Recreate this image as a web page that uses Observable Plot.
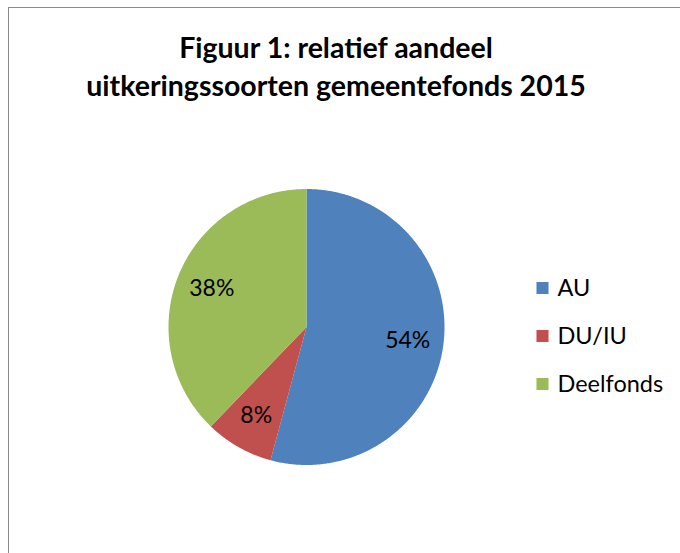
<!DOCTYPE html>
<html>
<head>
<meta charset="utf-8">
<script src="https://cdn.jsdelivr.net/npm/d3@7"></script>
<script src="https://cdn.jsdelivr.net/npm/@observablehq/plot@0.6"></script>
<style>
  html, body { margin: 0; padding: 0; background: #fff; overflow: hidden; }
  #page { position: fixed; left: 0; top: 0; width: 100vw; height: 100vh; overflow: hidden; background: #fff; }
  #frame { position: absolute; left: 8px; top: 7px; right: -50px; bottom: -50px; border-left: 1.5px solid #8a8a8a; border-top: 1.5px solid #8a8a8a; }
  #title { position: absolute; left: 8px; width: 656px; top: 28px; text-align: center;
           font-family: Lato, "Open Sans", sans-serif; font-weight: bold; font-size: 28.5px; line-height: 38px; color: #000; }
  #chart { position: absolute; left: 0; top: 120px; }
</style>
</head>
<body>
<div id="page">
  <div id="frame"></div>
  <div id="title">Figuur 1: relatief aandeel<br>uitkeringssoorten gemeentefonds 2015</div>
  <div id="chart"></div>
</div>
<script>
// ---- data ----
const categories = ["AU", "DU/IU", "Deelfonds"];
const values = [54.2, 8.0, 37.8];
const labels = ["54%", "8%", "38%"];
const colors = ["#4F81BD", "#C0504D", "#9BBB59"];

// ---- layout ----
const W = 680, H = 433;
const cx = 306, cy = 206.5, R = 138;
const labelR = 0.74;
const legendX = 542, legendY0 = 167.5, legendStep = 48;

const arcs = d3.pie().sort(null).value(d => d)(values);

const rows = [];
arcs.forEach((a, i) => {
  rows.push({name: categories[i], x: cx, y: cy});
  const n = Math.max(4, Math.ceil((a.endAngle - a.startAngle) / (Math.PI / 360)));
  for (let k = 0; k <= n; k++) {
    const t = a.startAngle + (a.endAngle - a.startAngle) * k / n;
    rows.push({name: categories[i], x: cx + R * Math.sin(t), y: cy - R * Math.cos(t)});
  }
});

const labelRows = arcs.map((a, i) => {
  const m = (a.startAngle + a.endAngle) / 2;
  return {text: labels[i], x: cx + R * labelR * Math.sin(m), y: cy - R * labelR * Math.cos(m)};
});

const legendRows = categories.map((c, i) => ({name: c, x: legendX, y: legendY0 + i * legendStep}));

const chart = Plot.plot({
  width: W, height: H, margin: 0,
  style: {fontFamily: "Lato, 'Open Sans', sans-serif", background: "transparent"},
  x: {domain: [0, W], range: [0, W], axis: null},
  y: {domain: [0, H], range: [0, H], axis: null},
  color: {domain: categories, range: colors},
  marks: [
    Plot.line(rows, {x: "x", y: "y", z: "name", fill: "name", stroke: "none", curve: "linear"}),
    Plot.text(labelRows, {x: "x", y: "y", text: "text", fontSize: 23, fill: "#000"}),
    Plot.dot(legendRows, {x: "x", y: "y", symbol: "square", r: 6.8, fill: "name", stroke: "none"}),
    Plot.text(legendRows, {x: "x", y: "y", text: "name", dx: 15, textAnchor: "start", fontSize: 23.5, fill: "#000"})
  ]
});
document.getElementById("chart").appendChild(chart);
</script>
</body>
</html>
